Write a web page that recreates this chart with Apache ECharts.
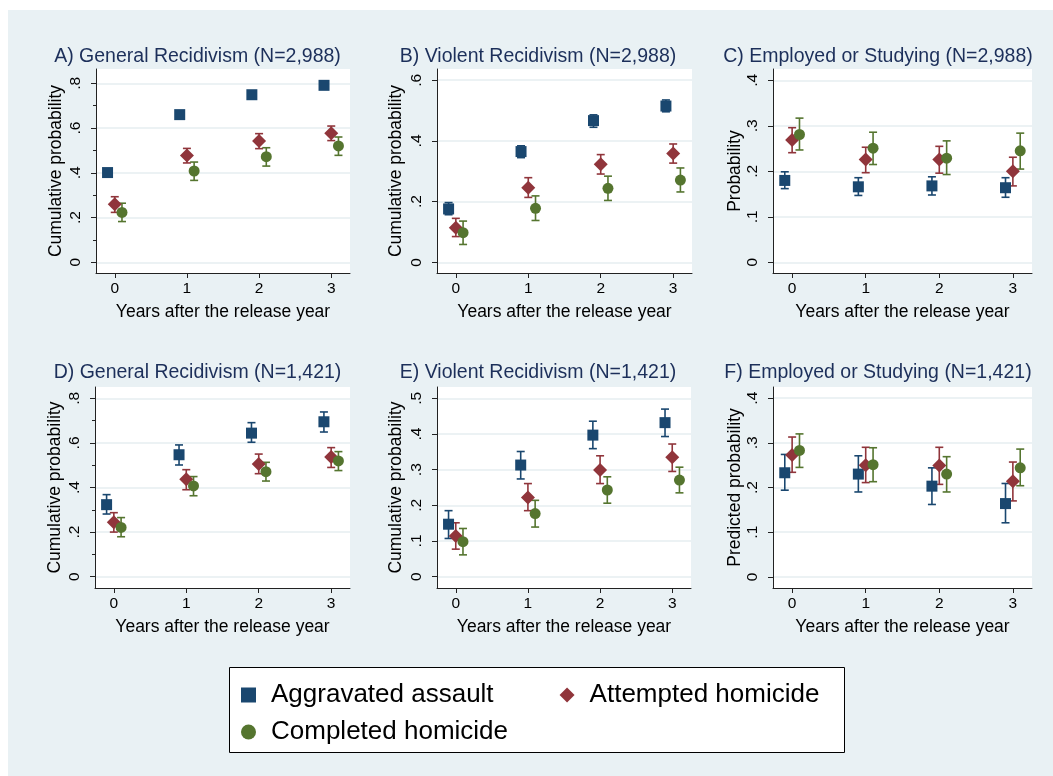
<!DOCTYPE html>
<html><head><meta charset="utf-8">
<script src="https://cdn.jsdelivr.net/npm/echarts@6/dist/echarts.min.js"></script>
<style>html,body{margin:0;padding:0;background:#fff}#c{width:1053px;height:776px}</style>
</head><body><div id="c"></div>
<script>
// ---------- DATA ----------
const years = [0, 1, 2, 3];
const groups = ['Aggravated assault', 'Attempted homicide', 'Completed homicide'];
const panelTitles = [
  'A) General Recidivism (N=2,988)', 'B) Violent Recidivism (N=2,988)', 'C) Employed or Studying (N=2,988)',
  'D) General Recidivism (N=1,421)', 'E) Violent Recidivism (N=1,421)', 'F) Employed or Studying (N=1,421)'
];
const yTitles = ['Cumulative probability', 'Cumulative probability', 'Probability',
                 'Cumulative probability', 'Cumulative probability', 'Predicted probability'];
const xTitle = 'Years after the release year';
const yTicksA = [0, 0.2, 0.4, 0.6, 0.8];
const yTicksB = [0, 0.2, 0.4, 0.6];
const yTicksC = [0, 0.1, 0.2, 0.3, 0.4];
const yTicksD = [0, 0.2, 0.4, 0.6, 0.8];
const yTicksE = [0, 0.1, 0.2, 0.3, 0.4, 0.5];
const yTicksF = [0, 0.1, 0.2, 0.3, 0.4];
const yMinorA = [0.1, 0.3, 0.5, 0.7];
const yMinorD = [0.1, 0.3, 0.5, 0.7];

// Panel A
const A_assault = [0.401, 0.660, 0.749, 0.791];
const A_assault_lo = [0.391, 0.650, 0.739, 0.781];
const A_assault_hi = [0.411, 0.670, 0.759, 0.801];
const A_attempted = [0.259, 0.477, 0.542, 0.577];
const A_attempted_lo = [0.223, 0.444, 0.508, 0.544];
const A_attempted_hi = [0.293, 0.509, 0.575, 0.609];
const A_completed = [0.223, 0.408, 0.472, 0.520];
const A_completed_lo = [0.182, 0.366, 0.430, 0.478];
const A_completed_hi = [0.264, 0.448, 0.512, 0.560];
// Panel B
const B_assault = [0.176, 0.365, 0.467, 0.515];
const B_assault_lo = [0.157, 0.345, 0.445, 0.496];
const B_assault_hi = [0.197, 0.384, 0.486, 0.535];
const B_attempted = [0.114, 0.246, 0.323, 0.359];
const B_attempted_lo = [0.085, 0.214, 0.291, 0.327];
const B_attempted_hi = [0.145, 0.279, 0.355, 0.390];
const B_completed = [0.098, 0.178, 0.244, 0.271];
const B_completed_lo = [0.059, 0.138, 0.204, 0.232];
const B_completed_hi = [0.136, 0.219, 0.284, 0.311];
// Panel C
const C_assault = [0.180, 0.166, 0.168, 0.164];
const C_assault_lo = [0.162, 0.147, 0.148, 0.143];
const C_assault_hi = [0.199, 0.186, 0.188, 0.186];
const C_attempted = [0.269, 0.226, 0.226, 0.200];
const C_attempted_lo = [0.241, 0.197, 0.196, 0.168];
const C_attempted_hi = [0.296, 0.253, 0.255, 0.231];
const C_completed = [0.281, 0.251, 0.229, 0.245];
const C_completed_lo = [0.247, 0.215, 0.193, 0.205];
const C_completed_hi = [0.317, 0.286, 0.267, 0.284];
// Panel D
const D_assault = [0.323, 0.547, 0.644, 0.695];
const D_assault_lo = [0.281, 0.501, 0.603, 0.649];
const D_assault_hi = [0.368, 0.591, 0.691, 0.739];
const D_attempted = [0.244, 0.437, 0.505, 0.537];
const D_attempted_lo = [0.200, 0.390, 0.462, 0.490];
const D_attempted_hi = [0.287, 0.480, 0.550, 0.579];
const D_completed = [0.221, 0.407, 0.471, 0.519];
const D_completed_lo = [0.179, 0.363, 0.429, 0.476];
const D_completed_hi = [0.265, 0.449, 0.513, 0.561];
// Panel E
const E_assault = [0.147, 0.313, 0.397, 0.432];
const E_assault_lo = [0.107, 0.274, 0.359, 0.393];
const E_assault_hi = [0.185, 0.351, 0.436, 0.470];
const E_attempted = [0.114, 0.222, 0.299, 0.335];
const E_attempted_lo = [0.077, 0.185, 0.261, 0.295];
const E_attempted_hi = [0.151, 0.261, 0.339, 0.372];
const E_completed = [0.098, 0.177, 0.243, 0.271];
const E_completed_lo = [0.061, 0.139, 0.206, 0.235];
const E_completed_hi = [0.135, 0.214, 0.280, 0.307];
// Panel F
const F_assault = [0.233, 0.230, 0.203, 0.164];
const F_assault_lo = [0.194, 0.190, 0.162, 0.121];
const F_assault_hi = [0.274, 0.271, 0.244, 0.209];
const F_attempted = [0.273, 0.250, 0.249, 0.214];
const F_attempted_lo = [0.234, 0.211, 0.207, 0.170];
const F_attempted_hi = [0.313, 0.290, 0.290, 0.257];
const F_completed = [0.283, 0.251, 0.230, 0.244];
const F_completed_lo = [0.245, 0.213, 0.190, 0.204];
const F_completed_hi = [0.320, 0.289, 0.269, 0.286];

// ---------- LAYOUT / STYLE ----------
const FONT = '"Liberation Sans", Arial, Helvetica, sans-serif';
const colors = ['#1a476f', '#90353b', '#55752f'];
const symbols = ['rect', 'diamond', 'circle'];
const symbolSizes = [11, 14, 11];
const dodge = [-0.1, 0, 0.1];

const panels = [
  { grid: {left: 96, top: 69, width: 254, height: 204}, y: [-0.048, 0.864], ticks: yTicksA, minor: yMinorA, titleX: 197.5, titleY: 47, nameGap: 31,
    series: [[A_assault, A_assault_lo, A_assault_hi], [A_attempted, A_attempted_lo, A_attempted_hi], [A_completed, A_completed_lo, A_completed_hi]] },
  { grid: {left: 437, top: 69, width: 255, height: 204}, y: [-0.035, 0.637], ticks: yTicksB, minor: null, titleX: 538, titleY: 47, nameGap: 32,
    series: [[B_assault, B_assault_lo, B_assault_hi], [B_attempted, B_attempted_lo, B_attempted_hi], [B_completed, B_completed_lo, B_completed_hi]] },
  { grid: {left: 773, top: 69, width: 259, height: 204}, y: [-0.0235, 0.425], ticks: yTicksC, minor: null, titleX: 878, titleY: 47, nameGap: 27,
    series: [[C_assault, C_assault_lo, C_assault_hi], [C_attempted, C_attempted_lo, C_attempted_hi], [C_completed, C_completed_lo, C_completed_hi]] },
  { grid: {left: 95, top: 387, width: 255, height: 201}, y: [-0.051, 0.851], ticks: yTicksD, minor: yMinorD, titleX: 197.5, titleY: 363, nameGap: 31,
    series: [[D_assault, D_assault_lo, D_assault_hi], [D_attempted, D_attempted_lo, D_attempted_hi], [D_completed, D_completed_lo, D_completed_hi]] },
  { grid: {left: 437, top: 387, width: 254, height: 201}, y: [-0.032, 0.532], ticks: yTicksE, minor: null, titleX: 538, titleY: 363, nameGap: 32,
    series: [[E_assault, E_assault_lo, E_assault_hi], [E_attempted, E_attempted_lo, E_attempted_hi], [E_completed, E_completed_lo, E_completed_hi]] },
  { grid: {left: 773, top: 387, width: 259, height: 201}, y: [-0.025, 0.425], ticks: yTicksF, minor: null, titleX: 878, titleY: 363, nameGap: 27,
    series: [[F_assault, F_assault_lo, F_assault_hi], [F_attempted, F_attempted_lo, F_attempted_hi], [F_completed, F_completed_lo, F_completed_hi]] }
];

function fmt(v) {
  if (Math.abs(v) < 1e-9) return '0';
  return (Math.round(v * 10) / 10).toString().replace(/^0\./, '.');
}

function ciRender(params, api) {
  const x = api.value(0), lo = api.value(1), hi = api.value(2);
  const pLo = api.coord([x, lo]), pHi = api.coord([x, hi]);
  const cap = 4;
  const style = {stroke: api.visual('color'), lineWidth: 1.6};
  return {type: 'group', children: [
    {type: 'line', shape: {x1: pLo[0], y1: pLo[1], x2: pHi[0], y2: pHi[1]}, style: style},
    {type: 'line', shape: {x1: pLo[0] - cap, y1: pLo[1], x2: pLo[0] + cap, y2: pLo[1]}, style: style},
    {type: 'line', shape: {x1: pHi[0] - cap, y1: pHi[1], x2: pHi[0] + cap, y2: pHi[1]}, style: style}
  ]};
}

const grids = [], xAxes = [], yAxes = [], series = [], titles = [];
panels.forEach((p, i) => {
  grids.push(Object.assign({show: true, backgroundColor: '#ffffff', borderWidth: 0, containLabel: false}, p.grid));
  titles.push({
    text: panelTitles[i], left: p.titleX, top: p.titleY, textAlign: 'center', padding: 0,
    textStyle: {fontFamily: FONT, fontSize: 19.5, fontWeight: 'normal', color: '#1c2f5a'}
  });
  xAxes.push({
    type: 'value', gridIndex: i, min: -0.26, max: 3.26,
    name: xTitle, nameLocation: 'middle', nameGap: 30,
    nameTextStyle: {fontFamily: FONT, fontSize: 17.5, color: '#000'},
    axisLine: {show: true, onZero: false, lineStyle: {color: '#222', width: 1}},
    axisTick: {show: true, length: 5, customValues: years, lineStyle: {color: '#222'}},
    axisLabel: {customValues: years, margin: 8, fontFamily: FONT, fontSize: 15.5, color: '#000', formatter: v => String(Math.round(v))},
    splitLine: {show: false}
  });
  yAxes.push({
    type: 'value', gridIndex: i, min: p.y[0], max: p.y[1], position: 'left',
    name: yTitles[i], nameLocation: 'middle', nameGap: p.nameGap, nameRotate: 90,
    nameTextStyle: {fontFamily: FONT, fontSize: 17.5, color: '#000'},
    axisLine: {show: true, onZero: false, lineStyle: {color: '#222', width: 1}},
    axisTick: {show: true, length: 5, customValues: p.ticks, lineStyle: {color: '#222'}},
    axisLabel: {customValues: p.ticks, rotate: 90, margin: 12, fontFamily: FONT, fontSize: 15.5, color: '#000', formatter: fmt},
    splitLine: {show: true, lineStyle: {color: '#e6eef1', width: 1.5}}
  });
  if (p.minor) {
    yAxes.push({
      type: 'value', gridIndex: i, min: p.y[0], max: p.y[1], position: 'left', offset: 0,
      axisLine: {show: false, onZero: false},
      axisTick: {show: true, length: 3, customValues: p.minor, lineStyle: {color: '#222', width: 1}},
      axisLabel: {show: false, customValues: p.minor},
      splitLine: {show: false}
    });
  }
  const yIdx = yAxes.length - (p.minor ? 2 : 1);
  p.series.forEach((s, g) => {
    const est = s[0], lo = s[1], hi = s[2];
    series.push({
      type: 'custom', name: 'ci_' + i + '_' + g, xAxisIndex: i, yAxisIndex: yIdx,
      renderItem: ciRender, itemStyle: {color: colors[g]}, z: 2, silent: true,
      encode: {x: 0, y: [1, 2]},
      data: years.map((yr, k) => [yr + dodge[g], lo[k], hi[k]])
    });
    series.push({
      type: 'scatter', name: groups[g], xAxisIndex: i, yAxisIndex: yIdx,
      symbol: symbols[g], symbolSize: symbolSizes[g], z: 3,
      itemStyle: {color: colors[g], opacity: 1},
      data: years.map((yr, k) => [yr + dodge[g], est[k]])
    });
  });
});

const legendText = {fontFamily: FONT, fontSize: 26, color: '#000', padding: [0, 0, 0, 10]};
const option = {
  backgroundColor: '#ffffff',
  animation: false,
  title: titles,
  grid: grids,
  xAxis: xAxes,
  yAxis: yAxes,
  series: series,
  legend: [
    {data: [{name: groups[0], icon: 'rect'}, {name: groups[1], icon: 'diamond'}],
     left: 241, top: 682, padding: 0, orient: 'horizontal', itemGap: 66, itemWidth: 15, itemHeight: 15,
     selectedMode: false, textStyle: legendText},
    {data: [{name: groups[2], icon: 'circle'}],
     left: 241, top: 719, padding: 0, orient: 'horizontal', itemWidth: 15, itemHeight: 15,
     selectedMode: false, textStyle: legendText}
  ],
  graphic: [
    {type: 'rect', z: -10, silent: true, shape: {x: 8, y: 10, width: 1045, height: 766}, style: {fill: '#e9f1f4'}},
    {type: 'rect', z: 1, silent: true, shape: {x: 229.5, y: 667.5, width: 615, height: 85}, style: {fill: '#ffffff', stroke: '#000', lineWidth: 1}}
  ]
};

const chart = echarts.init(document.getElementById('c'), null, {renderer: 'canvas'});
chart.setOption(option);
</script>
</body></html>
